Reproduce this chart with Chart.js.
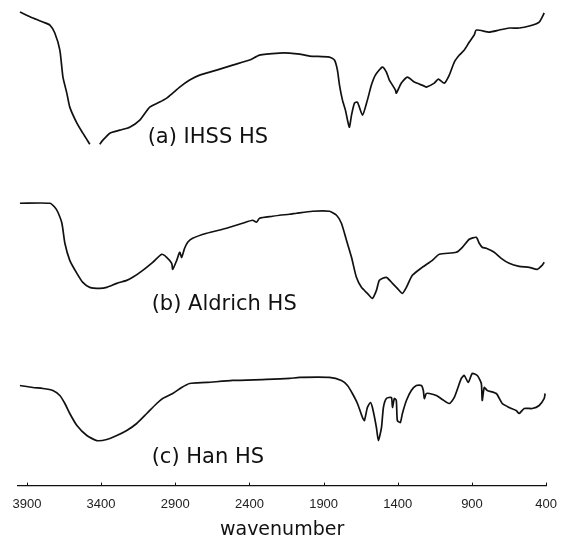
<!DOCTYPE html>
<html>
<head>
<meta charset="utf-8">
<title>FT-IR spectra of humic substances</title>
<script src="https://cdn.jsdelivr.net/npm/chart.js@4.4.1/dist/chart.umd.min.js"></script>
<style>
  html, body { margin: 0; padding: 0; background: #ffffff; }
  #wrap { width: 568px; height: 541px; }
</style>
</head>
<body>
<div id="wrap"><canvas id="ir-chart"></canvas></div>
<script>
// Wavenumber ticks (cm-1), plotted high to low
const tickWavenumbers = [3900, 3400, 2900, 2400, 1900, 1400, 900, 400];

// Each spectrum: wavenumbers and stacked transmittance (offset, a.u.)
const ihssWn = [3947, 3860, 3792, 3745, 3712, 3678, 3657, 3631, 3611, 3563, 3523, 3476,
    3442, 3409, 3388, 3341, 3274, 3207, 3139, 3072, 3005, 2958, 2917, 2870, 2803, 2736,
    2621, 2513, 2399, 2332, 2197, 2130, 2062, 1995, 1861, 1827, 1807, 1793, 1773, 1753,
    1739, 1726, 1712, 1692, 1672, 1638, 1605, 1578, 1551, 1504, 1477, 1457, 1436, 1416,
    1410, 1376, 1335, 1288, 1221, 1208, 1154, 1127, 1086, 1053, 1019, 985, 952, 918, 885,
    871, 783, 716, 649, 582, 514, 447, 413];
const ihssT = [473, 467, 463, 460, 452, 435, 408, 392, 378, 362, 352, 341,
    null, 341, 345, 352, 355, 358, 365, 378, 383, 387, 392, 398, 405, 410,
    415, 420, 425, 430, 432, 432, 431, 429, 428, 425, 415, 400, 385, 375,
    365, 358, 370, 382, 383, 370, 385, 400, 410, 418, 413, 405, 400, 395,
    392, 402, 408, 403, 399, 398, 402, 406, 402, 410, 423, 430, 435, 443, 450,
    455, 453, 455, 457, 457, 459, 463, 472];

const aldrichWn = [3947, 3745, 3712, 3691, 3664, 3644, 3611, 3563, 3523, 3476, 3409, 3362,
    3294, 3227, 3187, 3119, 3052, 2991, 2958, 2924, 2917, 2890, 2870, 2857, 2837, 2816,
    2783, 2688, 2554, 2446, 2379, 2352, 2332, 2244, 2197, 2130, 2083, 1975, 1861, 1813,
    1780, 1746, 1712, 1679, 1645, 1605, 1571, 1544, 1524, 1477, 1436, 1403, 1369, 1342,
    1302, 1235, 1167, 1120, 1006, 965, 918, 871, 851, 831, 804, 750, 703, 649, 582, 514,
    460, 427, 413];
const aldrichT = [282, 282, 278, 273, 262, 242, 225, 212, 203, 198, 197, 198,
    202, 205, 208, 215, 223, 231, 228, 222, 216, 225, 233, 228, 237, 243,
    247, 252, 257, 262, 265, 263, 267, 269, 270, 271, 272, 274, 274, 270,
    262, 245, 228, 208, 198, 192, 187, 195, 205, 208, 202, 197, 192, 198,
    210, 218, 225, 231, 233, 238, 246, 248, 242, 238, 237, 233, 227, 222, 219, 218,
    216, 220, 223];

const hanWn = [3947, 3860, 3792, 3725, 3678, 3644, 3611, 3563, 3496, 3429, 3362, 3294,
    3227, 3160, 3092, 3025, 2985, 2917, 2857, 2803, 2688, 2513, 2285, 2130, 2062, 1861,
    1780, 1739, 1706, 1672, 1638, 1625, 1605, 1585, 1571, 1544, 1531, 1510, 1497, 1477,
    1443, 1436, 1423, 1410, 1403, 1383, 1369, 1342, 1309, 1275, 1241, 1228, 1221, 1208,
    1187, 1140, 1100, 1053, 1019, 972, 952, 925, 898, 864, 837, 831, 817, 797, 736, 696,
    649, 602, 582, 548, 494, 447, 413, 407];
const hanT = [100, 98, 97, 95, 90, 82, 72, 60, 50, 45, 46, 50,
    55, 62, 72, 82, 87, 92, 98, 102, 103, 105, 106, 107, 108, 108,
    105, 100, 92, 82, 68, 65, 78, 83, 78, 58, 45, 58, 78, 87,
    88, 78, 87, 85, 65, 63, 72, 85, 95, 100, 100, 95, 87, 92,
    92, 90, 86, 82, 88, 107, 110, 103, 112, 110, 102, 85, 98, 95, 92, 82,
    78, 75, 72, 77, 77, 80, 87, 92];

// Sample names with their anchor (wavenumber, transmittance)
const sampleLabels = ['(a) IHSS HS', '(b) Aldrich HS', '(c) Han HS'];
const labelWn = [3086, 3059, 3059];
const labelT = [348, 181, 28];

function toPoints(wn, t) {
    return wn.map((w, i) => ({ x: w, y: t[i] }));
}

function spectrum(label, wn, t) {
    return {
        label: label,
        data: toPoints(wn, t),
        borderColor: '#111111',
        borderWidth: 1.7,
        pointRadius: 0,
        tension: 0.2,
        spanGaps: false,
    };
}

// Sample names and the small upward tick marks on the axis
const annotate = {
    id: 'annotate',
    afterDraw(chart) {
        const { ctx, scales: { x, y }, chartArea } = chart;
        ctx.save();
        ctx.fillStyle = '#111111';
        ctx.font = '21px "DejaVu Sans"';
        ctx.textAlign = 'left';
        ctx.textBaseline = 'middle';
        sampleLabels.forEach((text, i) => {
            ctx.fillText(text, x.getPixelForValue(labelWn[i]), y.getPixelForValue(labelT[i]));
        });
        ctx.strokeStyle = '#111111';
        ctx.lineWidth = 1;
        tickWavenumbers.forEach(w => {
            const px = Math.round(x.getPixelForValue(w)) + 0.5;
            ctx.beginPath();
            ctx.moveTo(px, chartArea.bottom);
            ctx.lineTo(px, chartArea.bottom - 3);
            ctx.stroke();
        });
        ctx.restore();
    }
};

const ctx = document.getElementById('ir-chart');

new Chart(ctx, {
    type: 'line',
    data: {
        datasets: [
            spectrum('IHSS HS', ihssWn, ihssT),
            spectrum('Aldrich HS', aldrichWn, aldrichT),
            spectrum('Han HS', hanWn, hanT),
        ]
    },
    options: {
        responsive: true,
        maintainAspectRatio: false,
        animation: false,
        layout: {
            padding: { top: 5, left: 18, right: 21, bottom: 0 }
        },
        plugins: {
            legend: { display: false },
            tooltip: { enabled: false }
        },
        scales: {
            x: {
                type: 'linear',
                reverse: true,
                min: 400,
                max: 3960,
                afterBuildTicks: axis => {
                    axis.ticks = tickWavenumbers.map(v => ({ value: v }));
                },
                grid: { display: false, drawTicks: false },
                border: { display: true, color: '#111111', width: 1.2 },
                ticks: {
                    color: '#222222',
                    padding: 11,
                    maxRotation: 0,
                    autoSkip: false,
                    font: { family: '"Liberation Sans"', size: 13 },
                    callback: value => String(value)
                },
                title: {
                    display: true,
                    text: 'wavenumber',
                    color: '#111111',
                    padding: { top: -5, bottom: 0 },
                    font: { family: '"DejaVu Sans"', size: 19 }
                }
            },
            y: {
                display: false,
                min: 0,
                max: 480
            }
        }
    },
    plugins: [annotate]
});
</script>
</body>
</html>
